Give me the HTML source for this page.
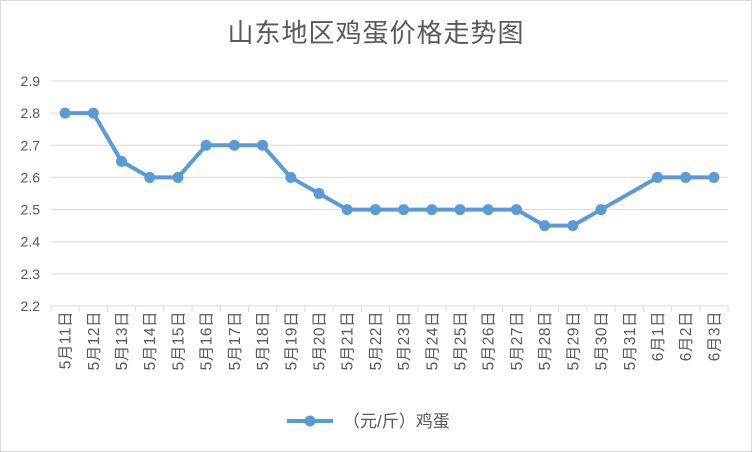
<!DOCTYPE html>
<html><head><meta charset="utf-8"><style>
body{margin:0;background:#fff}
svg{display:block;font-family:"Liberation Sans","Noto Sans CJK SC",sans-serif}
</style></head><body>
<svg width="752" height="452">
<rect x="0.5" y="0.5" width="751" height="451" fill="#fff" stroke="#d9d9d9"/>
<text x="376" y="42" font-size="26" fill="#595959" text-anchor="middle" letter-spacing="1" font-family="'Noto Sans CJK SC',sans-serif">山东地区鸡蛋价格走势图</text>
<g id="grid"></g><g id="xax"></g><g id="series"></g>
<g>
<line x1="287" y1="421" x2="333" y2="421" stroke="#5b9bd5" stroke-width="4"/>
<circle cx="310" cy="421" r="5.5" fill="#5b9bd5"/>
<text x="343" y="427" font-size="17" fill="#595959">（元/斤）鸡蛋</text>
</g>
</svg>
<script>
const categories=["5月11日","5月12日","5月13日","5月14日","5月15日","5月16日","5月17日","5月18日","5月19日","5月20日","5月21日","5月22日","5月23日","5月24日","5月25日","5月26日","5月27日","5月28日","5月29日","5月30日","5月31日","6月1日","6月2日","6月3日"];
const values=[2.8,2.8,2.65,2.6,2.6,2.7,2.7,2.7,2.6,2.55,2.5,2.5,2.5,2.5,2.5,2.5,2.5,2.45,2.45,2.5,null,2.6,2.6,2.6];
const yTicks=["2.2","2.3","2.4","2.5","2.6","2.7","2.8","2.9"];
const NS="http://www.w3.org/2000/svg";
const L=51,R=728,T=81,B=306,yMin=2.2,yMax=2.9;
const step=(R-L)/categories.length;
const xs=i=>L+step*(i+0.5);
const ys=v=>B-(v-yMin)/(yMax-yMin)*(B-T);
function mk(t,a,p){const e=document.createElementNS(NS,t);for(const k in a)e.setAttribute(k,a[k]);p.appendChild(e);return e;}
const g=document.getElementById('grid');
yTicks.forEach(t=>{const y=ys(+t);
const ln=mk('line',{x1:L,x2:R,y1:y,y2:y,stroke:'#d9d9d9','stroke-width':1},g);


const tx=mk('text',{x:40,y:y+5,'font-size':14,fill:'#595959','text-anchor':'end'},g);tx.textContent=t;

});
const xa=document.getElementById('xax');
for(let i=0;i<=categories.length;i++){const x=L+step*i;mk('line',{x1:x,x2:x,y1:B,y2:B+6,stroke:'#d9d9d9'},xa);}
categories.forEach((c,i)=>{const x=xs(i);
const tx=mk('text',{x:0,y:0,'font-size':15.5,fill:'#595959','text-anchor':'end','letter-spacing':0.5,transform:`translate(${x+5.5},${311}) rotate(-90)`},xa);
tx.textContent=c;

});
const s=document.getElementById('series');
const pts=[];values.forEach((v,i)=>{if(v!=null)pts.push([xs(i),ys(v)]);});
const pl=mk('polyline',{points:pts.map(p=>p.join(',')).join(' '),fill:'none',stroke:'#5b9bd5','stroke-width':4,'stroke-linejoin':'round'},s);


pts.forEach(p=>{const c=mk('circle',{cx:p[0],cy:p[1],r:5.5,fill:'#5b9bd5'},s);

});
</script>
</body></html>
